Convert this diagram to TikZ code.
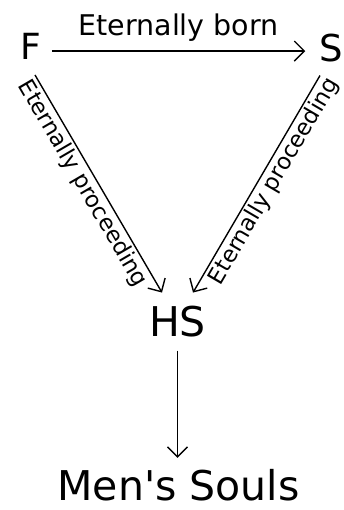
\documentclass[tikz,border=0pt]{standalone}
\usepackage{fontspec}
\setmainfont{DejaVu Sans}
\usetikzlibrary{arrows.meta,calc}
\begin{document}
\begin{tikzpicture}[x=1pt,y=-1pt,
  lbl/.style={inner sep=0pt, outer sep=0pt},
  arr/.style={line width=1.4pt, -{Straight Barb[length=10pt,width=20pt]}},
  side/.style={sloped, anchor=north, inner sep=0pt, outer sep=3pt, font=\fontsize{22.7}{24}\selectfont}]
\useasboundingbox (0,0) rectangle (343,510);
\node[lbl, anchor=base, font=\fontsize{36}{36}\selectfont] (F) at (30.5,60) {F};
\node[lbl, anchor=base, font=\fontsize{37}{37}\selectfont] (S) at (331,62) {S};
\node[lbl, anchor=base, font=\fontsize{41}{41}\selectfont] (HS) at (177.5,336) {HS};
\node[lbl, anchor=base, font=\fontsize{41}{41}\selectfont] (M) at (178.5,500) {Men\textquotesingle s Souls};
\coordinate (a1) at ([xshift=11pt,yshift=-4.15pt]F.east);
\draw[arr] (a1) -- node[lbl, midway, anchor=base, yshift=16pt, font=\fontsize{28.5}{28.5}\selectfont] {Eternally born} ($(a1 -| S.west)+(-14,0)$);
\draw[arr] ([xshift=4.5pt,yshift=-15pt]F.south) -- node[side, pos=0.468] {Eternally proceeding} ([xshift=-15.5pt,yshift=13pt]HS.north);
\draw[arr] ([xshift=-11pt,yshift=-13pt]S.south) -- node[side, pos=0.456] {Eternally proceeding} ([xshift=15.5pt,yshift=13pt]HS.north);
\draw[arr] ([yshift=-14pt]HS.south) -- ($(HS.south |- M.north)+(0,-11)$);
\end{tikzpicture}
\end{document}
